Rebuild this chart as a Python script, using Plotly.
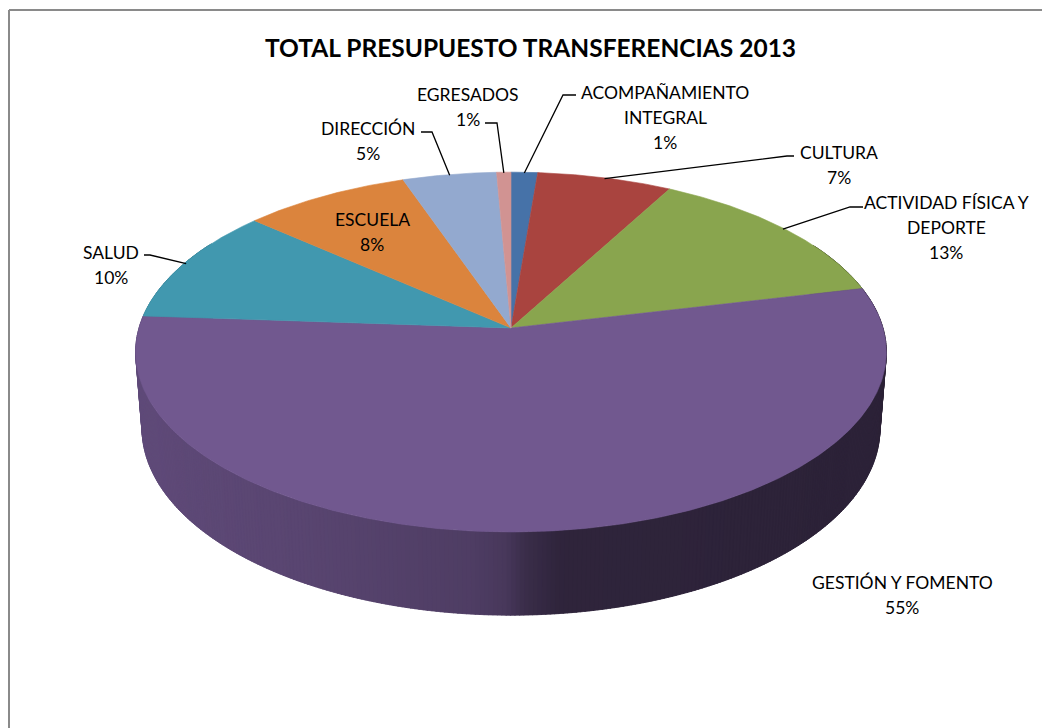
import numpy as np
import plotly.graph_objects as go

# ---------------- data ----------------
categories = ["ACOMPAÑAMIENTO INTEGRAL", "CULTURA", "ACTIVIDAD FÍSICA Y DEPORTE",
              "GESTIÓN Y FOMENTO", "SALUD", "ESCUELA", "DIRECCIÓN", "EGRESADOS"]
values = [1.3, 6.6, 13.4, 54.8, 10.4, 8.2, 4.6, 0.7]
label_lines = [["ACOMPAÑAMIENTO", "INTEGRAL"], ["CULTURA"], ["ACTIVIDAD FÍSICA Y", "DEPORTE"],
               ["GESTIÓN Y FOMENTO"], ["SALUD"], ["ESCUELA"], ["DIRECCIÓN"], ["EGRESADOS"]]
top_colors = ["#4672A8", "#A9443F", "#89A54E", "#71588F", "#4198AF", "#DB843D", "#93A9CF", "#D19392"]
title_text = "TOTAL PRESUPUESTO TRANSFERENCIAS 2013"

# ---------------- layout / style ----------------
W, H = 1042, 728
CX, CY = 511, 328          # pie apex on screen
SR = 372                   # screen radius scale
SIN_A, COS_A = 0.475, 0.88 # tilt
K = 0.152                  # perspective strength
THICK = 0.235              # pie thickness relative to radius
FONT = "Lato"
FS = 17.5

# label placement (center x, first-line y) and leader elbows
label_pos = {
    "ACOMPAÑAMIENTO INTEGRAL": (665, 92),
    "CULTURA": (839, 152),
    "ACTIVIDAD FÍSICA Y DEPORTE": (946, 202),
    "GESTIÓN Y FOMENTO": (902, 582),
    "SALUD": (111, 252),
    "ESCUELA": (372, 219),
    "DIRECCIÓN": (368, 128),
    "EGRESADOS": (468, 94),
}
leaders = {
    "ACOMPAÑAMIENTO INTEGRAL": [(576, 95), (563, 95)],
    "CULTURA": [(794, 156), (787, 156)],
    "ACTIVIDAD FÍSICA Y DEPORTE": [(863, 207), (850, 207)],
    "SALUD": [(144, 255), (150, 255)],
    "DIRECCIÓN": [(421, 132), (432, 132)],
    "EGRESADOS": [(485, 123), (497, 123)],
}
LINE_STEP = 25


def proj(theta_deg, w=0.0, r=1.0):
    t = np.radians(theta_deg)
    u = r * np.sin(t)
    v = r * np.cos(t)
    z = 1 + K * (v * COS_A - w * SIN_A)
    sx = CX + SR * u / z
    sy = CY - SR * (v * SIN_A + w * COS_A) / z
    return sx, sy


def hex2rgb(h):
    h = h.lstrip("#")
    return tuple(int(h[i:i + 2], 16) for i in (0, 2, 4))


def shade(hexcol, f):
    r, g, b = hex2rgb(hexcol)
    return "rgb(%d,%d,%d)" % (min(255, r * f), min(255, g * f), min(255, b * f))


def pct_text(v, tot):
    return f"{int(np.floor(v / tot * 100 + 0.5))}%"


# side shading as a function of screen x
shade_x = [130, 300, 470, 505, 525, 560, 900]
shade_f = [0.85, 0.79, 0.70, 0.64, 0.52, 0.42, 0.39]

total = sum(values)
bounds = np.concatenate([[0], np.cumsum(values)]) / total * 360.0

fig = go.Figure()

# ---- side wall (front part), drawn in thin overlapping shaded strips ----
step = 0.6
th = np.arange(60, 300, step)
for a0 in th:
    a1 = a0 + 2.2 * step  # overlap the next strip to hide seams
    mid = a0 + step / 2
    idx = int(np.searchsorted(bounds, mid, side="right") - 1)
    idx = min(max(idx, 0), len(values) - 1)
    xs_t, ys_t = proj(np.array([a0, a1]))
    xs_b, ys_b = proj(np.array([a1, a0]), w=-THICK)
    xs = list(xs_t) + list(xs_b) + [xs_t[0]]
    ys = list(ys_t) + list(ys_b) + [ys_t[0]]
    mx, _ = proj(mid)
    f = float(np.interp(mx, shade_x, shade_f))
    col = shade(top_colors[idx], f)
    fig.add_trace(go.Scatter(x=xs, y=ys, mode="lines", fill="toself", fillcolor=col,
                             line=dict(color=col, width=0.5), hoverinfo="skip", showlegend=False))

# ---- top faces ----
for i, (cat, col) in enumerate(zip(categories, top_colors)):
    a0, a1 = bounds[i], bounds[i + 1]
    n = max(3, int((a1 - a0) / 0.5) + 2)
    arc = np.linspace(a0, a1, n)
    ax, ay = proj(arc)
    xs = [CX] + list(ax) + [CX]
    ys = [CY] + list(ay) + [CY]
    fig.add_trace(go.Scatter(x=xs, y=ys, mode="lines", fill="toself", fillcolor=col,
                             line=dict(color=col, width=0.6), name=cat,
                             hoverinfo="text", text=f"{cat}: {pct_text(values[i], total)}",
                             showlegend=False))

# ---- labels & leaders ----
annotations = []
for i, cat in enumerate(categories):
    lines = label_lines[i] + [pct_text(values[i], total)]
    lx, ly = label_pos[cat]
    for j, t in enumerate(lines):
        annotations.append(dict(x=lx, y=ly + j * LINE_STEP, xref="x", yref="y", text=t,
                                showarrow=False, xanchor="center", yanchor="middle",
                                font=dict(family=FONT, size=FS, color="black")))
    if cat in leaders:
        mid = (bounds[i] + bounds[i + 1]) / 2
        axp, ayp = proj(mid, r=0.995)
        pts = leaders[cat] + [(float(axp), float(ayp))]
        fig.add_trace(go.Scatter(x=[p[0] for p in pts], y=[p[1] for p in pts], mode="lines",
                                 line=dict(color="black", width=1.3), hoverinfo="skip",
                                 showlegend=False))

annotations.append(dict(x=530, y=47, xref="x", yref="y", text=f"<b>{title_text}</b>",
                        showarrow=False, xanchor="center", yanchor="middle",
                        font=dict(family=FONT, size=24.5, color="black")))

shapes = [
    dict(type="line", xref="x", yref="y", x0=9, y0=10, x1=9, y1=H, line=dict(color="#8a8a8a", width=2)),
    dict(type="line", xref="x", yref="y", x0=9, y0=10, x1=W, y1=10, line=dict(color="#8a8a8a", width=2)),
]

fig.update_layout(
    width=W, height=H,
    margin=dict(l=0, r=0, t=0, b=0),
    paper_bgcolor="white", plot_bgcolor="white",
    xaxis=dict(range=[0, W], visible=False, fixedrange=True),
    yaxis=dict(range=[H, 0], visible=False, fixedrange=True),
    annotations=annotations, shapes=shapes,
    showlegend=False,
)

fig.write_html("out.html",
               config=dict(displayModeBar=False),
               post_script="document.body.style.margin='0';document.body.style.overflow='hidden';")
